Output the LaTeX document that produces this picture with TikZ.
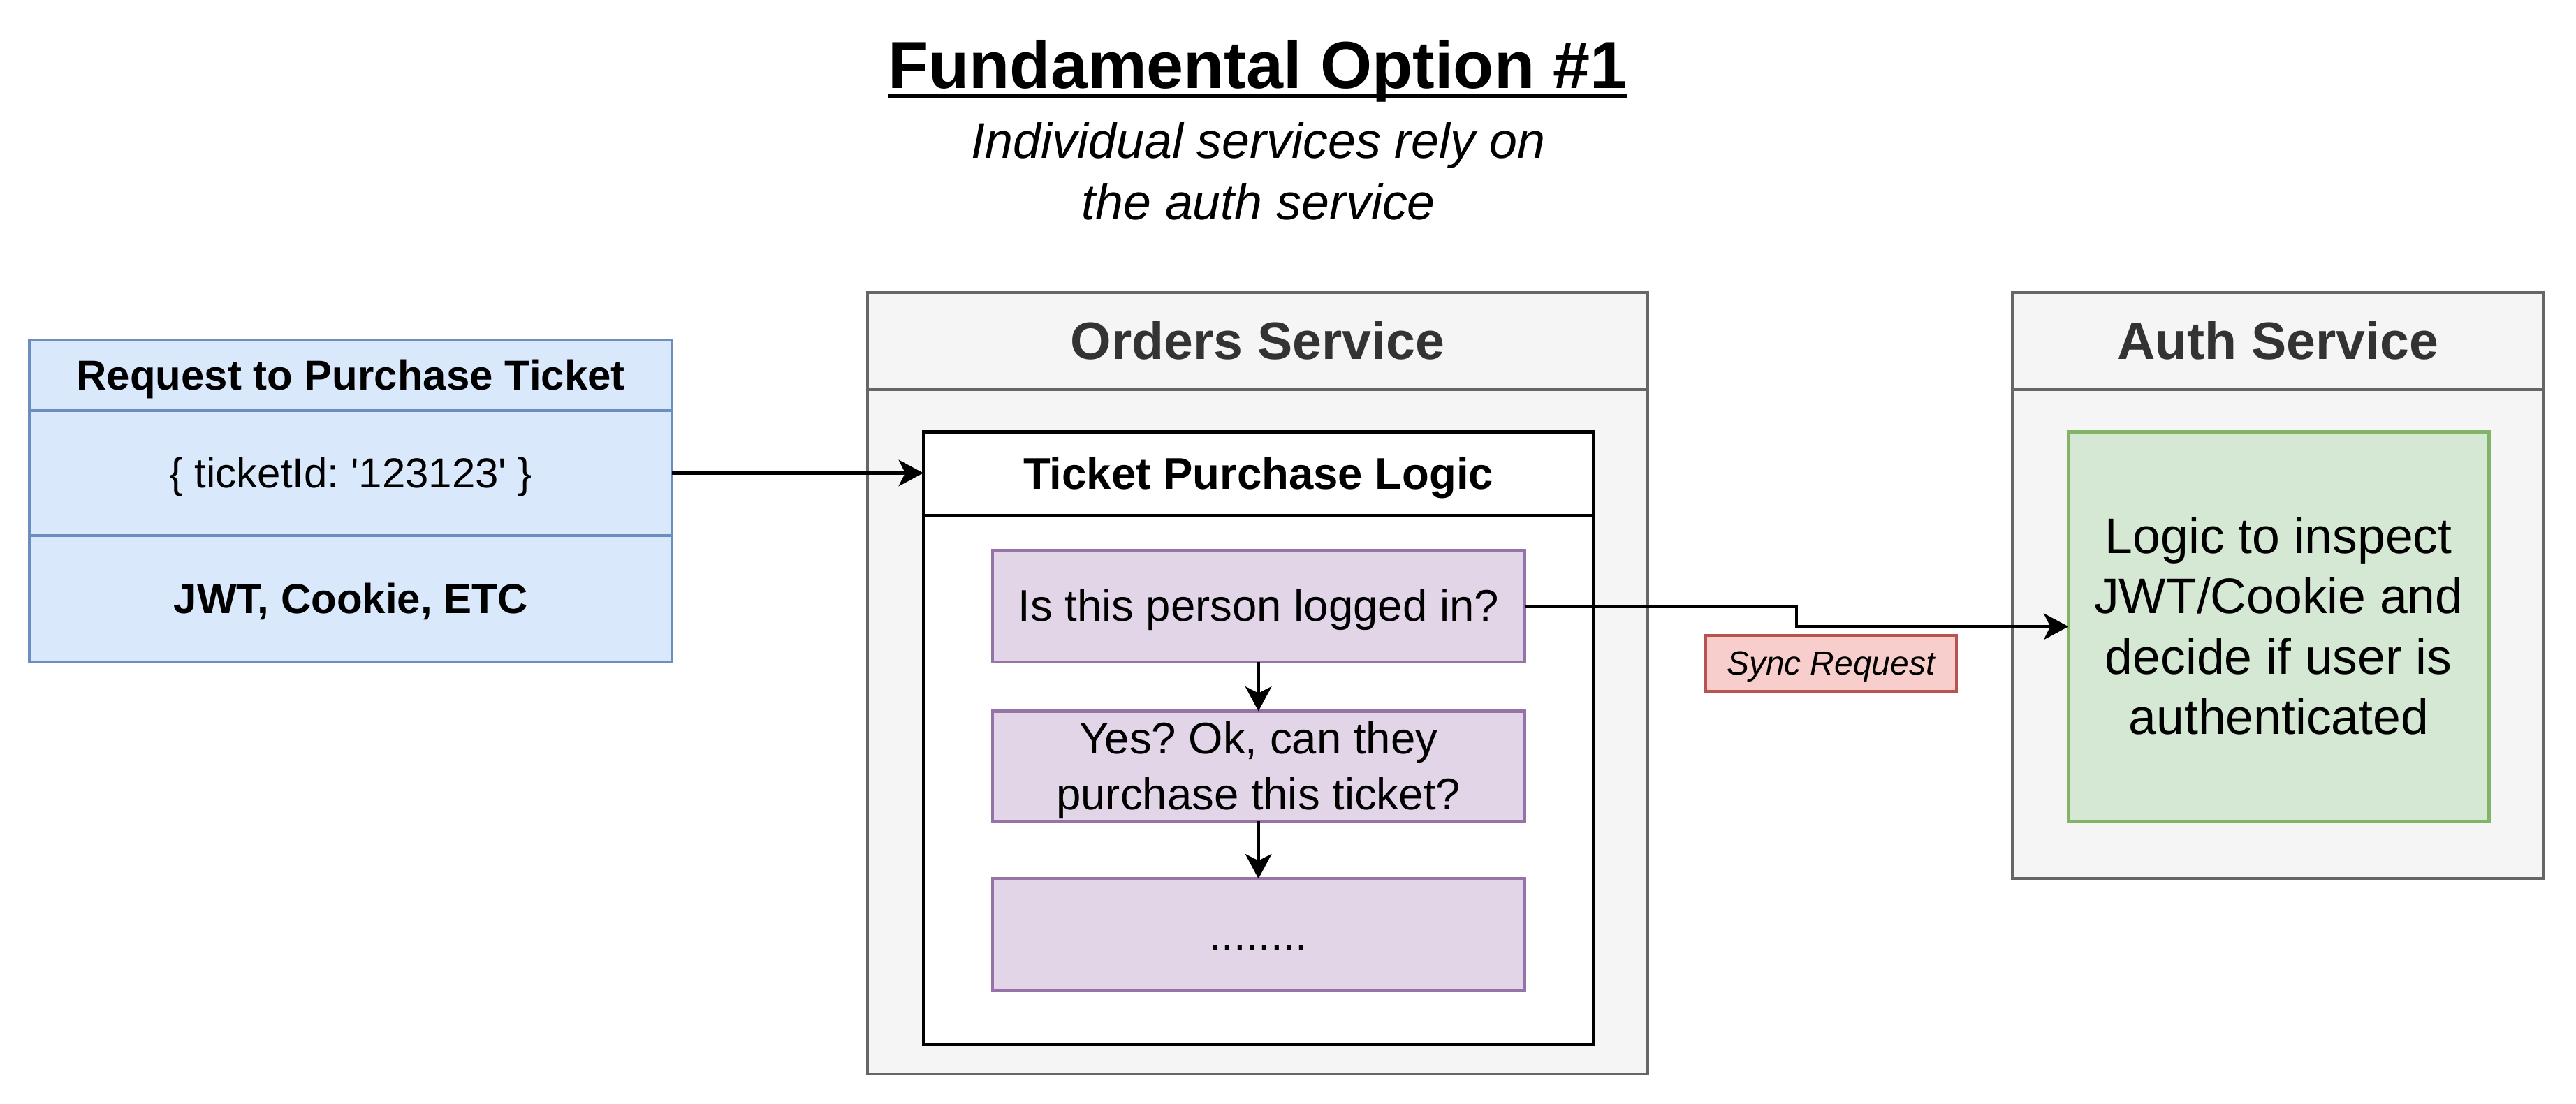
\documentclass[tikz,border=0pt]{standalone}
\usepackage{fontspec}
\setmainfont{Liberation Sans}
\usetikzlibrary{arrows.meta,calc}
\definecolor{reqfill}{HTML}{DAE8FC}
\definecolor{reqline}{HTML}{6C8EBF}
\definecolor{svcfill}{HTML}{F5F5F5}
\definecolor{svcline}{HTML}{666666}
\definecolor{svctext}{HTML}{333333}
\definecolor{purfill}{HTML}{E1D5E7}
\definecolor{purline}{HTML}{9673A6}
\definecolor{grnfill}{HTML}{D5E8D4}
\definecolor{grnline}{HTML}{82B366}
\definecolor{redfill}{HTML}{F8CECC}
\definecolor{redline}{HTML}{B85450}
\newcommand{\fsz}[2]{\fontsize{#1}{#2}\selectfont}
\newcommand{\dstr}{\rule[-0.212em]{0pt}{1.117em}}
\frenchspacing
\begin{document}
\begin{tikzpicture}[x=1pt,y=-1pt,
  every node/.style={inner sep=0pt, outer sep=0pt},
  bx/.style={draw, rectangle, anchor=north west, line width=1.8pt},
  reqbox/.style={bx, draw=reqline, fill=reqfill, minimum width=391pt},
  svcbox/.style={bx, draw=svcline, fill=svcfill, text=svctext},
  purbox/.style={bx, draw=purline, fill=purfill, minimum width=324pt, align=center, font=\fsz{27}{34}},
  conn/.style={line width=1.8pt, -{Stealth[length=15pt,width=16pt,inset=4pt]}},
]
\useasboundingbox (0,0) rectangle (1568,671.8);

% title
\node[anchor=base, font=\bfseries\fsz{40.5}{48.6}] (title) at (765.5,53.6) {Fundamental Option \#1};
\draw[line width=3pt] ([yshift=-4.7pt]title.base west) -- ([yshift=-4.7pt]title.base east);
\node[anchor=base, font=\itshape\fsz{30.5}{36.6}] (sub1) at (766,96.5) {Individual services rely on};
\node[anchor=base, font=\itshape\fsz{30.5}{36.6}] (sub2) at (766,133.7) {the auth service};

% request
\node[reqbox, minimum height=43pt, font=\bfseries\fsz{25.5}{30.6}] (reqh) at (18,207) {\dstr Request to Purchase Ticket};
\node[reqbox, minimum height=76pt, font=\fsz{25.5}{30.6}] (reqid) at (18,250) {\dstr \{ ticketId: \textquotesingle 123123\textquotesingle\ \}};
\node[reqbox, minimum height=77pt, font=\bfseries\fsz{25.5}{30.6}] (reqjwt) at (18,326) {\dstr JWT, Cookie, ETC};

% orders service
\node[svcbox, minimum width=475pt, minimum height=476pt] (orders) at (528,178) {};
\node[svcbox, minimum width=475pt, minimum height=59pt, font=\bfseries\fsz{32}{38.4}] (ordersh) at (528,178) {\dstr Orders Service};
\node[bx, draw=black, fill=white, minimum width=408pt, minimum height=373pt] (logic) at (562,263) {};
\node[bx, draw=black, fill=white, minimum width=408pt, minimum height=51pt, font=\bfseries\fsz{27}{32.4}] (logich) at (562,263) {\dstr Ticket Purchase Logic};
\node[purbox, minimum height=68pt] (p1) at (604,335) {\dstr Is this person logged in?};
\node[purbox, minimum height=67pt] (p2) at (604,433) {\dstr Yes? Ok, can they\\ purchase this ticket?\dstr};
\node[purbox, minimum height=68pt] (p3) at (604,535) {\dstr ........};

% auth service
\node[svcbox, minimum width=323pt, minimum height=357pt] (auth) at (1225,178) {};
\node[svcbox, minimum width=323pt, minimum height=59pt, font=\bfseries\fsz{32}{38.4}] (authh) at (1225,178) {\dstr Auth Service};
\node[bx, draw=grnline, fill=grnfill, minimum width=256pt, minimum height=237pt, align=center, font=\fsz{30.4}{36.8}] (green) at (1259,263) {\dstr Logic to inspect\\ JWT/Cookie and\\ decide if user is\\ authenticated\dstr};

% sync label
\node[bx, draw=redline, fill=redfill, minimum width=153pt, minimum height=34pt, font=\itshape\fsz{20.4}{24.5}] (sync) at (1038,387) {\dstr Sync Request};

% connectors
\coordinate (mid) at ($(p1.east)!0.5!(green.west)$);
\draw[conn] (reqid.east) -- (reqid.east -| logich.west);
\draw[conn] (p1.south) -- (p2.north);
\draw[conn] (p2.south) -- (p3.north);
\draw[conn] (p1.east) -| (mid) |- (green.west);
\end{tikzpicture}
\end{document}
